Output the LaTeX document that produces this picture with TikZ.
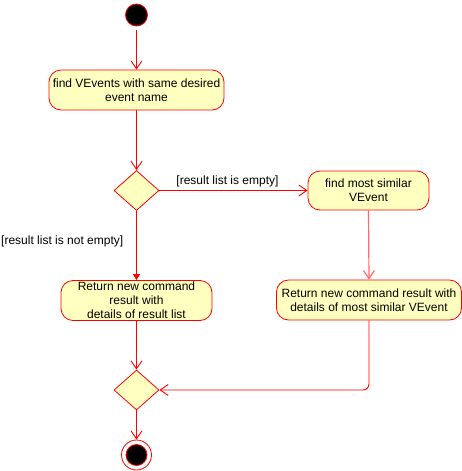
\documentclass[tikz,border=0pt]{standalone}
\usepackage{fontspec}
\setmainfont{Liberation Sans}
\usetikzlibrary{arrows.meta,shapes.geometric}
\definecolor{umlred}{HTML}{FF0000}
\definecolor{umlfill}{HTML}{FFFFC0}
\definecolor{softred}{HTML}{FF6B6B}
\tikzset{
  act/.style={draw=umlred, fill=umlfill, rounded corners=12pt, line width=0.8pt,
    align=center, inner sep=0pt, font=\fontsize{12}{14}\selectfont},
  dec/.style={draw=umlred, fill=umlfill, diamond, line width=0.8pt, inner sep=0pt,
    minimum width=45pt, minimum height=40pt},
  flow/.style={draw=umlred, line width=0.9pt, -{Straight Barb[length=8pt,width=11pt]}},
  flowf/.style={draw=umlred, line width=1.1pt, -{Triangle[length=6pt,width=7pt]}},
  guard/.style={font=\fontsize{12}{14}\selectfont, inner sep=0pt}
}
\begin{document}
\begin{tikzpicture}[x=1pt,y=-1pt]
\useasboundingbox (0,0) rectangle (462,471);
% start
\node[circle, draw=umlred, fill=black, minimum size=22pt, inner sep=0pt, line width=0.8pt] (start) at (136.5,15) {};
\coordinate (s0) at (136.5,30);
% activities
\node[act, minimum width=175pt, minimum height=40pt] (find) at (136.5,90) {find VEvents with same desired\\event name};
\node[dec] (d1) at (136.5,190.5) {};
\node[act, minimum width=121pt, minimum height=39pt] (sim) at (368.5,190.5) {find most similar\\VEvent};
\node[act, minimum width=151pt, minimum height=40pt] (ret1) at (136.5,300.5) {Return new command\\result with\\details of result list};
\node[act, minimum width=185pt, minimum height=40pt] (ret2) at (369,300) {Return new command result with\\details of most similar VEvent};
\node[dec] (d2) at (136.5,390) {};
% end
\node[circle, draw=umlred, fill=white, minimum size=30pt, inner sep=0pt, line width=0.8pt] (endo) at (136.5,455) {};
\node[circle, draw=umlred, fill=black, minimum size=21pt, inner sep=0pt, line width=0.8pt] (endi) at (136.5,455) {};
% connectors
\draw[flow] (s0) -- (find.north);
\draw[flow] (find.south) -- (d1.north);
\draw[flow] (d1.east) -- node[guard, above=3pt, xshift=-6pt] {[result list is empty]} (sim.west);
\draw[flowf] (d1.south) -- (ret1.north);
\node[guard, anchor=west] (g2) at (1,241) {[result list is not empty]};
\draw[flow, draw=softred, line width=1.2pt] (sim.south) -- (ret2.north);
\draw[flow] (ret1.south) -- (d2.north);
\draw[flow, rounded corners=6pt] (ret2.south) |- (d2.east);
\draw[flow] (d2.south) -- (endo.north);
\end{tikzpicture}
\end{document}
